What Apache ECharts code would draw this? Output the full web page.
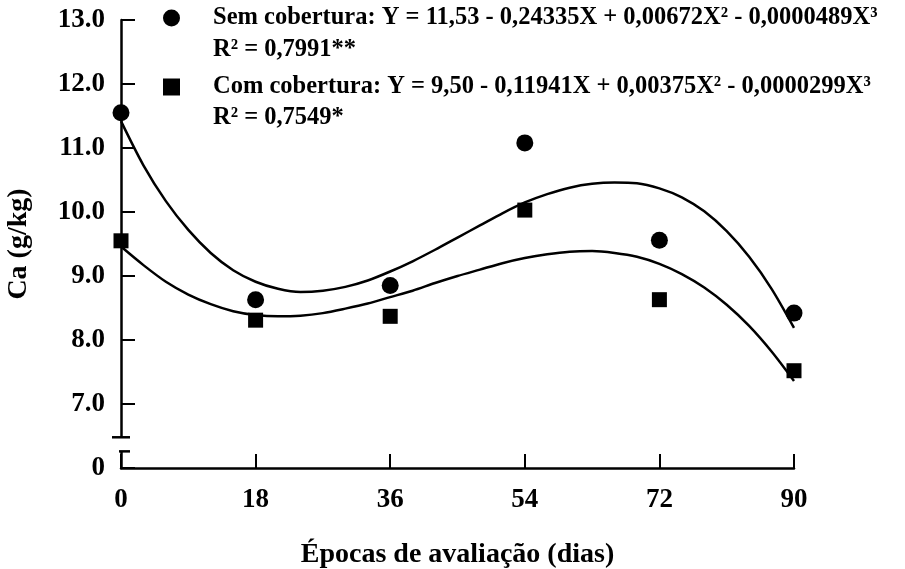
<!DOCTYPE html>
<html>
<head>
<meta charset="utf-8">
<script src="https://cdn.jsdelivr.net/npm/echarts@6/dist/echarts.min.js"></script>
<style>
  html, body { margin: 0; padding: 0; background: #fff; }
  #main { width: 905px; height: 569px; }
</style>
</head>
<body>
<div id="main"></div>
<script>
// observed points
const epocas = [0, 18, 36, 54, 72, 90];
const semCobertura = [11.55, 8.63, 8.85, 11.08, 9.56, 8.42];
const comCobertura = [9.55, 8.31, 8.37, 10.03, 8.63, 7.52];

// fitted curves, every 3 days
const curvaX = [0, 3, 6, 9, 12, 15, 18, 21, 24, 27, 30, 33, 36, 39, 42, 45,
                48, 51, 54, 57, 60, 63, 66, 69, 72, 75, 78, 81, 84, 87, 90];
const curvaSem = [11.42, 10.73, 10.17, 9.72, 9.36, 9.09, 8.91, 8.80, 8.75, 8.77, 8.83, 8.93, 9.07, 9.23, 9.41, 9.60,
                  9.79, 9.98, 10.15, 10.28, 10.38, 10.44, 10.46, 10.45, 10.37, 10.23, 10.01, 9.70, 9.30, 8.80, 8.19];
const curvaCom = [9.46, 9.17, 8.91, 8.71, 8.56, 8.45, 8.39, 8.37, 8.38, 8.42, 8.49, 8.57, 8.67, 8.77, 8.89, 9.00,
                  9.10, 9.20, 9.28, 9.34, 9.38, 9.39, 9.36, 9.30, 9.19, 9.03, 8.82, 8.55, 8.22, 7.82, 7.36];

const nomes = ['Sem cobertura', 'Com cobertura'];
const equacoes = [
    'Sem cobertura: Y = 11,53 - 0,24335X + 0,00672X² - 0,0000489X³',
    'Com cobertura: Y = 9,50 - 0,11941X + 0,00375X² - 0,0000299X³'
];
const r2 = ['R² = 0,7991**', 'R² = 0,7549*'];

const fonte = '"Liberation Serif", "Times New Roman", serif';

function pares(xs, ys) {
    return xs.map((x, i) => [x, ys[i]]);
}

let myChart = echarts.init(document.getElementById('main'));

let option = {
    backgroundColor: '#fff',
    animation: false,
    textStyle: { fontFamily: fonte, fontWeight: 'bold', color: '#000' },
    grid: { left: 121, right: 111, top: 20, bottom: 101, outerBoundsMode: 'none' },
    legend: {
        data: nomes,
        orient: 'vertical',
        left: 158,
        top: 0,
        itemWidth: 17,
        itemHeight: 17,
        itemGap: 43,
        formatter: function (name) {
            return equacoes[nomes.indexOf(name)];
        },
        textStyle: {
            fontFamily: fonte,
            fontWeight: 'bold',
            fontSize: 24.5,
            lineHeight: 26,
            color: '#000',
            padding: [0, 0, 0, 28]
        }
    },
    xAxis: {
        type: 'value',
        min: 0,
        max: 90,
        interval: 18,
        name: 'Épocas de avaliação (dias)',
        nameLocation: 'middle',
        nameGap: 73,
        nameTextStyle: { fontFamily: fonte, fontWeight: 'bold', fontSize: 28, color: '#000' },
        axisLine: { lineStyle: { color: '#000', width: 2.5 } },
        axisTick: { inside: true, length: 14, lineStyle: { color: '#000', width: 2 } },
        axisLabel: { margin: 19, fontFamily: fonte, fontWeight: 'bold', fontSize: 27, color: '#000' },
        splitLine: { show: false }
    },
    yAxis: {
        type: 'value',
        min: 6,
        max: 13,
        interval: 1,
        name: 'Ca (g/kg)',
        nameLocation: 'middle',
        nameGap: 88,
        nameTextStyle: { fontFamily: fonte, fontWeight: 'bold', fontSize: 28, color: '#000' },
        axisLine: { show: true, lineStyle: { color: '#000', width: 2.5 } },
        axisTick: { show: true, inside: true, length: 14, lineStyle: { color: '#000', width: 2 } },
        axisLabel: {
            margin: 16,
            fontFamily: fonte,
            fontWeight: 'bold',
            fontSize: 27,
            color: '#000',
            formatter: function (v) {
                return v === 6 ? '0' : v.toFixed(1);
            }
        },
        splitLine: { show: false }
    },
    series: [
        {
            name: 'Sem cobertura',
            type: 'scatter',
            symbol: 'circle',
            symbolSize: 17,
            itemStyle: { color: '#000', opacity: 1 },
            data: pares(epocas, semCobertura),
            z: 5
        },
        {
            name: 'Com cobertura',
            type: 'scatter',
            symbol: 'rect',
            symbolSize: 15,
            itemStyle: { color: '#000', opacity: 1 },
            data: pares(epocas, comCobertura),
            z: 5
        },
        {
            name: 'curva sem',
            type: 'line',
            smooth: 0.3,
            showSymbol: false,
            lineStyle: { color: '#000', width: 2.5 },
            data: pares(curvaX, curvaSem)
        },
        {
            name: 'curva com',
            type: 'line',
            smooth: 0.3,
            showSymbol: false,
            lineStyle: { color: '#000', width: 2.5 },
            data: pares(curvaX, curvaCom)
        }
    ]
};

myChart.setOption(option);

// axis break between 0 and 7.0, placed with the axis scale
const topo = myChart.convertToPixel({ gridIndex: 0 }, [0, 6.48]);
const base = myChart.convertToPixel({ gridIndex: 0 }, [0, 6.26]);
const rotulosR2 = r2.map((t, i) => ({
    type: 'text',
    left: 213,
    top: i === 0 ? 37 : 105,
    style: { text: t, font: 'bold 24.5px ' + fonte, fill: '#000' }
}));
myChart.setOption({
    graphic: [
        {
            type: 'rect',
            shape: { x: topo[0] - 3, y: topo[1], width: 6, height: base[1] - topo[1] },
            style: { fill: '#fff' },
            z: 10
        },
        {
            type: 'line',
            shape: { x1: topo[0] - 9, y1: topo[1], x2: topo[0] + 9, y2: topo[1] },
            style: { stroke: '#000', lineWidth: 2.5 },
            z: 11
        },
        {
            type: 'line',
            shape: { x1: base[0] - 2, y1: base[1], x2: base[0] + 9, y2: base[1] },
            style: { stroke: '#000', lineWidth: 2.5 },
            z: 11
        }
    ].concat(rotulosR2)
});
</script>
</body>
</html>
